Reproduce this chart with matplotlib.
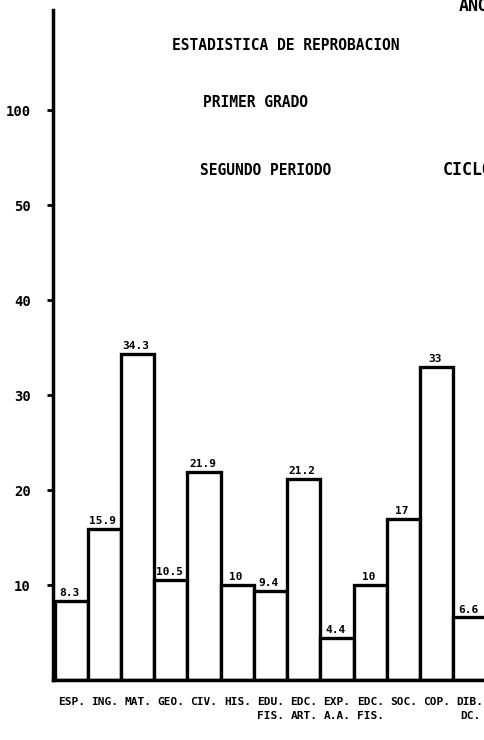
import matplotlib
matplotlib.use("Agg")
import matplotlib.pyplot as plt
import numpy as np

# datos del cuadro
materias = ["ESP.", "ING.", "MAT.", "GEO.", "CIV.", "HIS.", "EDU.\nFIS.",
            "EDC.\nART.", "EXP.\nA.A.", "EDC.\nFIS.", "SOC.", "COP.", "DIB.\nDC."]
valores = [8.3, 15.9, 34.3, 10.5, 21.9, 10, 9.4, 21.2, 4.4, 10, 17, 33, 6.6]
etiquetas = ["8.3", "15.9", "34.3", "10.5", "21.9", "10", "9.4", "21.2",
             "4.4", "10", "17", "33", "6.6"]
yticks = [10, 20, 30, 40, 50, 60]
ytick_labels = ["10", "20", "30", "40", "50", "100"]

fuente = "DejaVu Sans Mono"

fig = plt.figure(figsize=(4.85, 7.4), dpi=100)
ax = fig.add_axes([0.109, 0.081, 0.891, 0.905])

x = np.arange(len(valores))
ax.bar(x, valores, width=1.0, facecolor="white", edgecolor="black",
       linewidth=2.4, zorder=2)

for xi, v, t in zip(x, valores, etiquetas):
    ax.text(xi - 0.05, v + 0.3, t, ha="center", va="bottom", fontsize=8,
            fontweight="bold", family=fuente)

ax.set_xlim(-0.55, 12.45)
ax.set_ylim(0, 70.5)

ax.set_yticks(yticks)
ax.set_yticklabels(ytick_labels, fontsize=10, fontweight="bold", family=fuente)
ax.set_xticks(x)
ax.set_xticklabels(materias, fontsize=8, fontweight="bold", family=fuente,
                   linespacing=1.5)
ax.tick_params(axis="y", direction="out", length=4, width=2, pad=12)
ax.tick_params(axis="x", length=0, pad=12)

for s in ["top", "right"]:
    ax.spines[s].set_visible(False)
ax.spines["left"].set_linewidth(2.5)
ax.spines["bottom"].set_linewidth(2.5)
ax.spines["bottom"].set_zorder(3)

# textos del encabezado (los de la derecha quedan cortados como en el original)
fig.text(0.59, 0.939, "ESTADISTICA DE REPROBACION", ha="center", va="center",
         fontsize=10.5, fontweight="bold", family=fuente)
fig.text(0.527, 0.861, "PRIMER GRADO", ha="center", va="center",
         fontsize=10.5, fontweight="bold", family=fuente)
fig.text(0.548, 0.770, "SEGUNDO PERIODO", ha="center", va="center",
         fontsize=10.5, fontweight="bold", family=fuente)
fig.text(0.912, 0.770, "CICLO", ha="left", va="center",
         fontsize=12, fontweight="bold", family=fuente)
fig.text(0.945, 0.992, "AÑO", ha="left", va="center",
         fontsize=12, fontweight="bold", family=fuente)

fig.savefig("out.png", dpi=100)
